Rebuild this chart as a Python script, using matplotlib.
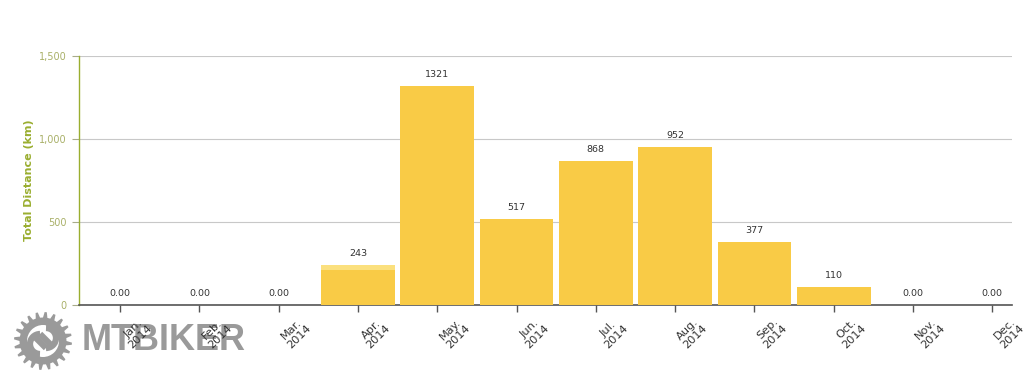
#!/usr/bin/env python3
import matplotlib as mpl

mpl.use("Agg")
import matplotlib.pyplot as plt
import numpy as np
from matplotlib.patches import Arc, Circle, Polygon
from matplotlib.transforms import blended_transform_factory

MONTHS = ["Jan.", "Feb.", "Mar.", "Apr.", "May.", "Jun.", "Jul.", "Aug.", "Sep.", "Oct.", "Nov.", "Dec."]
YEAR = "2014"
# main series (darker yellow) and the small lighter cap seen on April
DIST_BASE = [0, 0, 0, 211, 1321, 517, 868, 952, 377, 110, 0, 0]
DIST_TOP = [0, 0, 0, 32, 0, 0, 0, 0, 0, 0, 0, 0]
LABELS = ["0.00", "0.00", "0.00", "243", "1321", "517", "868", "952", "377", "110", "0.00", "0.00"]
YTICKS = [0, 500, 1000, 1500]
YTICKLABELS = ["0", "500", "1,000", "1,500"]

BAR = "#F9CB46"
BAR_LIGHT = "#FBE07E"
OLIVE = "#9AAE30"
OLIVE_LIGHT = "#A9B068"
INK = "#333333"
GRID = "#C8C8C8"
WM = "#9A9A9A"

plt.rcParams["font.family"] = ["DejaVu Sans"]

fig = plt.figure(figsize=(10.24, 3.8), dpi=100)
ax = fig.add_axes([79 / 1024, 75 / 380, 933 / 1024, 249 / 380])

x = np.arange(len(MONTHS))
base = np.array(DIST_BASE)
top = np.array(DIST_TOP)
ax.bar(x, base, width=0.93, color=BAR, zorder=3)
ax.bar(x, top, bottom=base, width=0.93, color=BAR_LIGHT, zorder=3)
for xi, tot, lab in zip(x, base + top, LABELS):
    ax.annotate(lab, (xi, tot), xytext=(0, 5), textcoords="offset points",
                ha="center", va="bottom", fontsize=6.8, color=INK)

ax.set_xlim(-0.52, 11.25)
ax.set_ylim(0, 1500)
ax.set_yticks(YTICKS)
ax.set_yticklabels(YTICKLABELS, fontsize=7, color=OLIVE_LIGHT)
ax.grid(True, axis="y", color=GRID, lw=0.8, zorder=0)
ax.tick_params(axis="y", length=5, width=0.8, color="#A8AC8A", pad=4)
ax.set_ylabel("Total Distance (km)", color=OLIVE, fontsize=8, fontweight="bold")
ax.yaxis.set_label_coords(-0.048, 0.5)

ax.set_xticks(x)
ax.set_xticklabels([])
ax.tick_params(axis="x", length=5, width=1.0, color="#555555", direction="out")

for side in ["top", "right"]:
    ax.spines[side].set_visible(False)
ax.spines["left"].set_color(OLIVE)
ax.spines["left"].set_linewidth(1.0)
ax.spines["bottom"].set_color("#555555")
ax.spines["bottom"].set_linewidth(1.2)

# watermark logo (drawn below the month labels)
wm = fig.add_axes([0, 0, 1, 1], facecolor="none", zorder=0)
wm.set_xlim(0, 1024)
wm.set_ylim(380, 0)
wm.axis("off")
ax.set_zorder(1)
ax.patch.set_alpha(0)
cx, cy, r_out, r_in = 43, 341, 29, 23.5
n_teeth = 20
step = 2 * np.pi / n_teeth
ang = []
rad = []
for k in range(n_teeth):
    a0 = k * step
    ang += [a0, a0 + 0.18 * step, a0 + 0.42 * step, a0 + 0.6 * step]
    rad += [r_in, r_out, r_out, r_in]
ang = np.array(ang)
rad = np.array(rad)
gear = np.column_stack([cx + rad * np.cos(ang), cy + rad * np.sin(ang)])
wm.add_patch(Polygon(gear, closed=True, color=WM, lw=0))
wm.add_patch(Circle((cx, cy), 16, color="white", lw=0))
wm.add_patch(Arc((cx - 3, cy + 3), 20, 20, angle=0, theta1=90, theta2=270, color=WM, lw=4.5))
wm.add_patch(Arc((cx + 3, cy - 3), 20, 20, angle=0, theta1=-90, theta2=90, color=WM, lw=4.5))
wm.plot([cx - 3, cx + 9], [cy - 7, cy + 5], color=WM, lw=4.5, solid_capstyle="butt")
wm.plot([cx - 9, cx + 3], [cy - 5, cy + 7], color=WM, lw=4.5, solid_capstyle="butt")
wm.text(82, 341, "MTBIKER", fontsize=26, fontweight="bold", family=["Liberation Sans", "DejaVu Sans"],
        color=WM, ha="left", va="center")

trans = blended_transform_factory(ax.transData, ax.transAxes)
for xi, m in zip(x, MONTHS):
    ax.text(xi + 0.21, -0.112, f"{m}\n{YEAR}", transform=trans, rotation=45,
            ha="center", va="center", multialignment="center",
            fontsize=8.2, color=INK, linespacing=1.1, clip_on=False)

fig.savefig("out.png", dpi=100)
